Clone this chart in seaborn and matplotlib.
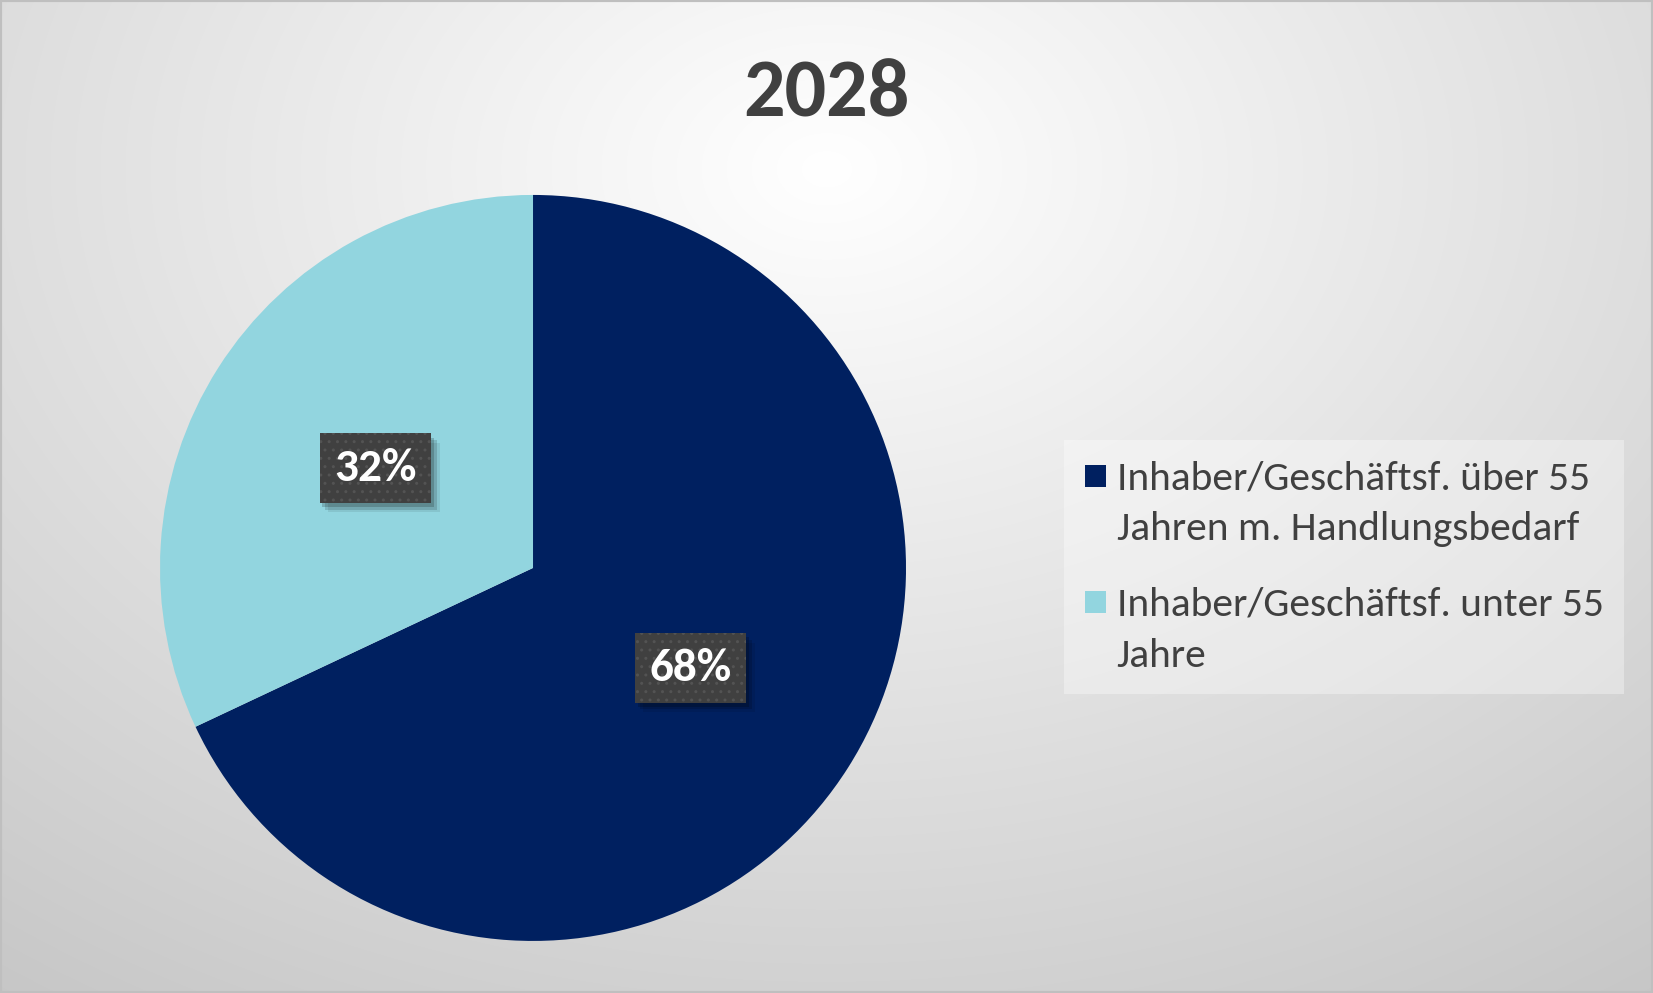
import numpy as np
import matplotlib
matplotlib.use("Agg")
import matplotlib.pyplot as plt
import matplotlib.patheffects as pe
from matplotlib.patches import Rectangle
from matplotlib.legend_handler import HandlerPatch
import seaborn as sns

# ---- data ----
title = "2028"
categories = ["Inhaber/Geschäftsf. über 55\nJahren m. Handlungsbedarf",
              "Inhaber/Geschäftsf. unter 55\nJahre"]
values = [68, 32]
colors = ["#002060", "#92D5DF"]

sns.set_theme(style="white")
plt.rcParams['font.family'] = ['Carlito', 'Lato', 'DejaVu Sans']

W, H = 1653, 993
fig = plt.figure(figsize=(W / 100, H / 100), dpi=100)

# background radial gradient
bg = fig.add_axes([0, 0, 1, 1], zorder=-10)
yy, xx = np.mgrid[0:H, 0:W]
cx, cy = 0.5 * W, 0.17 * H
d = np.sqrt(((xx - cx) / W) ** 2 + ((yy - cy) / (H * 1.2)) ** 2)
shade = np.clip(255 - 66 * d, 0, 255) / 255.0
bg.imshow(np.dstack([shade, shade, shade]), aspect='auto', extent=[0, 1, 0, 1], origin='upper')
bg.set_axis_off()

# pie
ax = fig.add_axes([0.0968, 0.0524, 0.4513, 0.7513])
wedges, texts, autotexts = ax.pie(
    values, colors=colors, startangle=90, counterclock=False,
    autopct=lambda p: f"{p:.0f}%", pctdistance=0.5,
    wedgeprops=dict(linewidth=0))
ax.set_xlim(-1, 1)
ax.set_ylim(-1, 1)
ax.set_axis_off()
plt.rcParams['hatch.linewidth'] = 1.0
LBL_FS = 34
for t in autotexts:
    t.set(color='white', fontsize=LBL_FS, fontweight='bold', zorder=5)
    t.set_bbox(dict(boxstyle='square,pad=0.31', fc='#404040', ec='#535353',
                    lw=0, hatch='..'))
    t.get_bbox_patch().set_path_effects([
        pe.SimplePatchShadow(offset=(2, -3), alpha=0.18, shadow_rgbFace='black', hatch=None),
        pe.SimplePatchShadow(offset=(4, -5), alpha=0.14, shadow_rgbFace='black', hatch=None),
        pe.SimplePatchShadow(offset=(6, -7), alpha=0.08, shadow_rgbFace='black', hatch=None),
        pe.Normal()])

# title
fig.text(0.5, 0.905, title, ha='center', va='center', fontsize=59,
         fontweight='bold', color='#404040')

# legend: square aligned with first text line
FS = 29.8
LINE_SHIFT = 21.0  # points


def top_square(legend, orig_handle, xdescent, ydescent, width, height, fontsize):
    s = 0.52 * fontsize
    return Rectangle((-xdescent, -ydescent + LINE_SHIFT), s, s)


leg = fig.legend(wedges, categories, loc='upper left',
                 bbox_to_anchor=(1064 / W, 1 - 440 / H), borderaxespad=0,
                 fontsize=FS, frameon=True, handlelength=0.52, handleheight=0.52,
                 handletextpad=0.25, labelspacing=0.95, borderpad=0.5,
                 fancybox=False, labelcolor='#404040',
                 handler_map={w: HandlerPatch(patch_func=top_square) for w in wedges})
for t in leg.get_texts():
    t.set_linespacing(1.51)
leg.get_frame().set_facecolor('white')
leg.get_frame().set_alpha(0.35)
leg.get_frame().set_edgecolor('none')

fig.patches.append(Rectangle((0, 0), 1, 1, transform=fig.transFigure,
                             fill=False, ec='#bfbfbf', lw=3))

fig.savefig("out.png", dpi=100)
